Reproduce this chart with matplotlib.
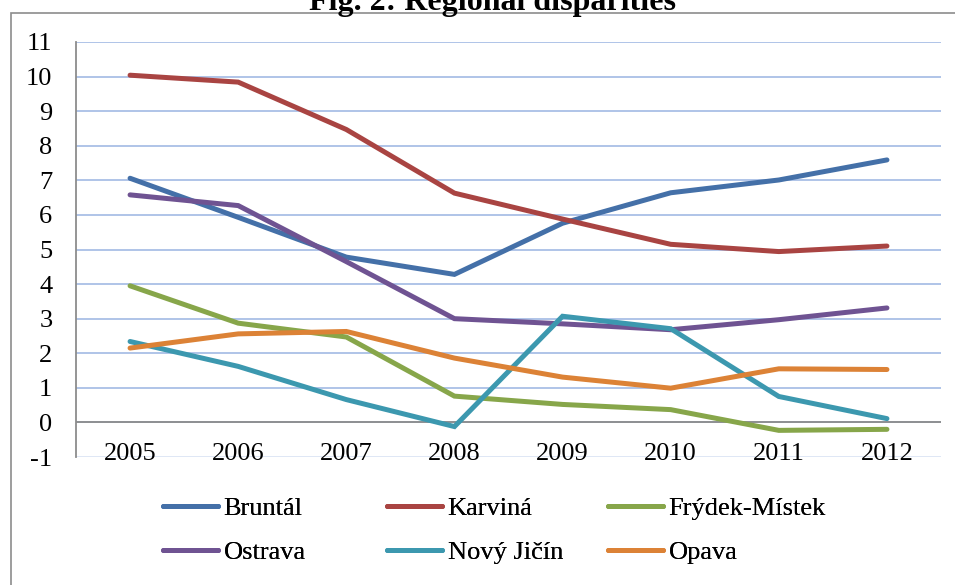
import matplotlib.pyplot as plt
import matplotlib.patches as patches

# === DATA ===
years = ["2005", "2006", "2007", "2008", "2009", "2010", "2011", "2012"]
bruntal = [7.06, 5.93, 4.78, 4.28, 5.76, 6.64, 7.01, 7.59]
karvina = [10.04, 9.84, 8.47, 6.63, 5.88, 5.15, 4.94, 5.10]
frydek = [3.95, 2.87, 2.47, 0.76, 0.52, 0.37, -0.23, -0.20]
ostrava = [6.58, 6.27, 4.65, 3.00, 2.85, 2.68, 2.97, 3.31]
novy_jicin = [2.34, 1.62, 0.66, -0.12, 3.07, 2.71, 0.75, 0.11]
opava = [2.15, 2.56, 2.63, 1.86, 1.31, 0.99, 1.55, 1.53]

series = [
    ("Bruntál", bruntal, "#4470A8"),
    ("Karviná", karvina, "#A94442"),
    ("Frýdek-Místek", frydek, "#87A64A"),
    ("Ostrava", ostrava, "#6F5392"),
    ("Nový Jičín", novy_jicin, "#3C98AF"),
    ("Opava", opava, "#DC8236"),
]

plt.rcParams["font.family"] = ["Liberation Serif", "DejaVu Serif"]
plt.rcParams["axes.unicode_minus"] = False

fig = plt.figure(figsize=(9.55, 5.85), dpi=100)
ax = fig.add_axes([76 / 955, 1 - 457 / 585, 865 / 955, 415 / 585])

# outer chart frame
frame = patches.Rectangle((11 / 955, -0.05), 1.1, 1 - 13 / 585 + 0.05,
                          transform=fig.transFigure, fill=False,
                          edgecolor="#8c8c8c", linewidth=1.2, clip_on=False)
fig.add_artist(frame)

# title sits partly above the top edge, as in the source
fig.text(492 / 955, 1 - 10 / 585, "Fig. 2: Regional disparities",
         ha="center", va="baseline", fontsize=23, fontweight="bold")

x = list(range(len(years)))
lines = []
for name, vals, color in series:
    ln, = ax.plot(x, vals, color=color, linewidth=3.6, solid_capstyle="round",
                  solid_joinstyle="miter", label=name, zorder=3)
    lines.append(ln)

# gridlines
for v in range(0, 12):
    ax.axhline(v, color="#A9BFE6", linewidth=1.3, zorder=1)
ax.axhline(-1, color="#DCE5F5", linewidth=1.3, zorder=1)
ax.axhline(0, color="#8c8c8c", linewidth=1.3, zorder=2)

ax.set_xlim(-0.5, len(years) - 0.5)
ax.set_ylim(-1, 11)
ax.set_yticks(range(-1, 12))
ax.set_xticks(x)
ax.set_xticklabels(years)
ax.tick_params(axis="y", length=0, pad=17, labelsize=19)
ax.tick_params(axis="x", length=0, pad=-10, labelsize=19)

for s in ["top", "right", "bottom"]:
    ax.spines[s].set_visible(False)
ax.spines["left"].set_color("#8c8c8c")
ax.spines["left"].set_linewidth(1.3)

# legend: three columns, filled row by row
col_x = [163, 387, 608]
for i, cx in enumerate(col_x):
    hs = [lines[i], lines[i + 3]]
    leg = fig.legend(handles=hs, labels=[h.get_label() for h in hs],
                     loc="upper left", bbox_to_anchor=(cx / 955, 1 - 497 / 585),
                     frameon=False, fontsize=19, handlelength=2.1,
                     handletextpad=0.2, labelspacing=0.75,
                     borderpad=0, borderaxespad=0)
    fig.add_artist(leg)

plt.savefig("out.png", dpi=100)
plt.close()
